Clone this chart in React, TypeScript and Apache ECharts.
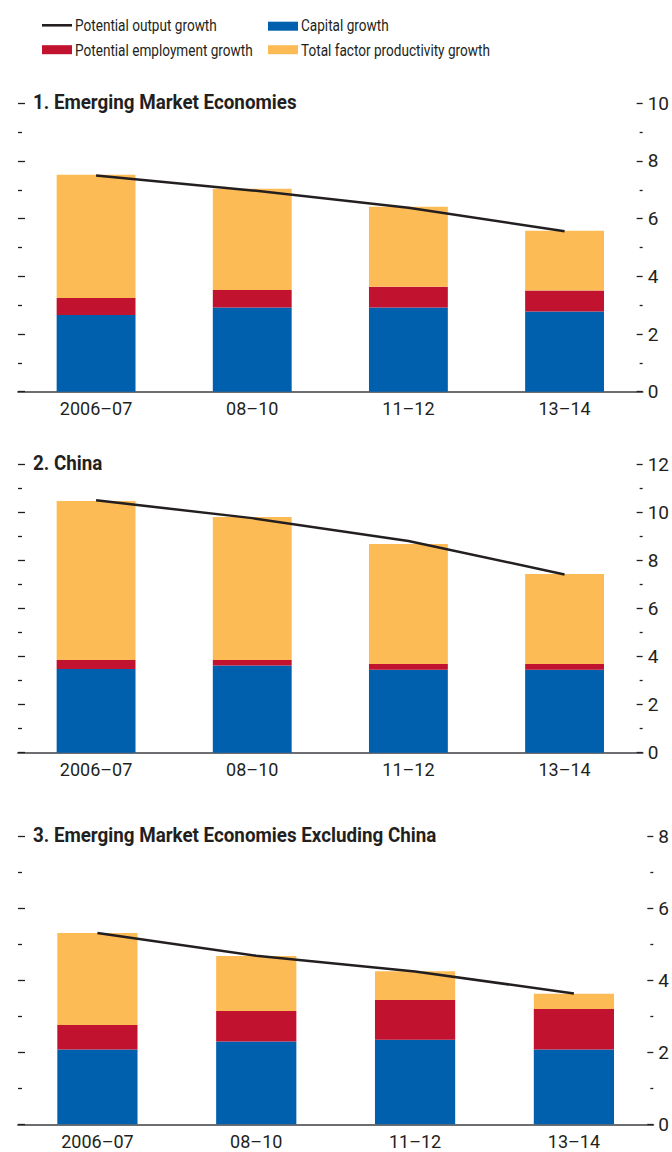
import React, { useEffect, useRef } from "react";
import * as echarts from "echarts";

const categories = ["2006–07", "08–10", "11–12", "13–14"];

const emCapital = [2.66, 2.92, 2.92, 2.78];
const emEmployment = [0.59, 0.61, 0.72, 0.73];
const emTfp = [4.27, 3.51, 2.77, 2.07];
const emOutput = [7.5, 6.98, 6.38, 5.56];

const cnCapital = [3.48, 3.62, 3.45, 3.45];
const cnEmployment = [0.37, 0.23, 0.24, 0.24];
const cnTfp = [6.61, 5.95, 4.98, 3.74];
const cnOutput = [10.49, 9.75, 8.8, 7.41];

const exCapital = [2.08, 2.3, 2.35, 2.08];
const exEmployment = [0.68, 0.85, 1.11, 1.13];
const exTfp = [2.56, 1.53, 0.8, 0.42];
const exOutput = [5.32, 4.69, 4.25, 3.64];

const panelTitles = [
  "1. Emerging Market Economies",
  "2. China",
  "3. Emerging Market Economies Excluding China",
];
const panelMax = [10, 12, 8];

const legendNames = [
  "Potential output growth",
  "Capital growth",
  "Potential employment growth",
  "Total factor productivity growth",
];

const FONT = "Roboto, 'Liberation Sans', sans-serif";
const BLUE = "#0060ae";
const RED = "#c1122f";
const YELLOW = "#fdbb56";
const INK = "#231f20";
const AXIS = "#6d6e71";

export default function App() {
  const ref = useRef<HTMLDivElement>(null);
  useEffect(() => {
    document.body.style.margin = "0";
    const chart = echarts.init(ref.current!, null, { renderer: "svg" });

    const panels = [
      { capital: emCapital, employment: emEmployment, tfp: emTfp, output: emOutput },
      { capital: cnCapital, employment: cnEmployment, tfp: cnTfp, output: cnOutput },
      { capital: exCapital, employment: exEmployment, tfp: exTfp, output: exOutput },
    ];
    const grids = [
      { left: 18, right: 29, top: 103.3, height: 288.4 },
      { left: 18, right: 26, top: 464, height: 288.7 },
      { left: 18, right: 18, top: 836.7, height: 287.6 },
    ];

    const xAxis: any[] = [];
    const yAxis: any[] = [];
    const series: any[] = [];
    const graphic: any[] = [];

    panels.forEach((p, i) => {
      xAxis.push({
        type: "category",
        gridIndex: i,
        data: categories,
        axisLine: { show: true, lineStyle: { color: AXIS, width: 2 } },
        axisTick: { show: false },
        axisLabel: { color: INK, fontSize: 18, fontFamily: FONT, margin: 8 },
      });
      const common = {
        type: "value",
        gridIndex: i,
        min: 0,
        max: panelMax[i],
        interval: 2,
        splitLine: { show: false },
        axisLine: { show: false },
        minorSplitLine: { show: false },
      };
      yAxis.push({
        ...common,
        position: "right",
        axisTick: { show: true, inside: true, length: 6, lineStyle: { color: INK, width: 1.3 } },
        minorTick: { show: true, splitNumber: 2, length: 3, lineStyle: { color: INK, width: 1.3 } },
        axisLabel: { show: true, color: INK, fontSize: 19, fontFamily: FONT, margin: 5 },
      });
      yAxis.push({
        ...common,
        position: "left",
        axisTick: { show: true, inside: true, length: 7, lineStyle: { color: INK, width: 1.3 } },
        minorTick: { show: true, splitNumber: 2, length: 4, lineStyle: { color: INK, width: 1.3 } },
        axisLabel: { show: false },
      });
      const stack = "s" + i;
      const barCommon = {
        type: "bar",
        stack,
        xAxisIndex: i,
        yAxisIndex: 2 * i,
        barWidth: "50.5%",
      };
      series.push({ ...barCommon, name: legendNames[1], data: p.capital, itemStyle: { color: BLUE } });
      series.push({ ...barCommon, name: legendNames[2], data: p.employment, itemStyle: { color: RED } });
      series.push({ ...barCommon, name: legendNames[3], data: p.tfp, itemStyle: { color: YELLOW } });
      series.push({
        type: "line",
        name: legendNames[0],
        xAxisIndex: i,
        yAxisIndex: 2 * i,
        data: p.output,
        symbol: "none",
        lineStyle: { color: INK, width: 2.5 },
        z: 5,
      });
      graphic.push({
        type: "text",
        x: 33,
        y: grids[i].top - 1,
        scaleX: 0.94,
        style: {
          text: panelTitles[i],
          fill: INK,
          fontSize: 20,
          fontWeight: "bold",
          fontFamily: FONT,
          verticalAlign: "middle",
          align: "left",
        },
      });
    });

    const legendText = (x: number, y: number, text: string) => ({
      type: "text",
      x,
      y,
      scaleX: 0.8,
      style: { text, fill: INK, fontSize: 17, fontFamily: FONT, verticalAlign: "middle", align: "left" },
    });
    graphic.push(
      { type: "line", shape: { x1: 42, y1: 25.3, x2: 72, y2: 25.3 }, style: { stroke: INK, lineWidth: 2.6 } },
      legendText(75, 25, legendNames[0]),
      { type: "rect", shape: { x: 42, y: 45.2, width: 30, height: 9 }, style: { fill: RED } },
      legendText(75, 50, legendNames[2]),
      { type: "rect", shape: { x: 268, y: 21.7, width: 30, height: 9 }, style: { fill: BLUE } },
      legendText(301, 25, legendNames[1]),
      { type: "rect", shape: { x: 268, y: 45.2, width: 30, height: 9 }, style: { fill: YELLOW } },
      legendText(301, 50, legendNames[3])
    );

    chart.setOption({
      animation: false,
      backgroundColor: "#ffffff",
      grid: grids,
      xAxis,
      yAxis,
      series,
      graphic,
    });
    return () => chart.dispose();
  }, []);
  return <div ref={ref} style={{ width: 672, height: 1152 }} />;
}
